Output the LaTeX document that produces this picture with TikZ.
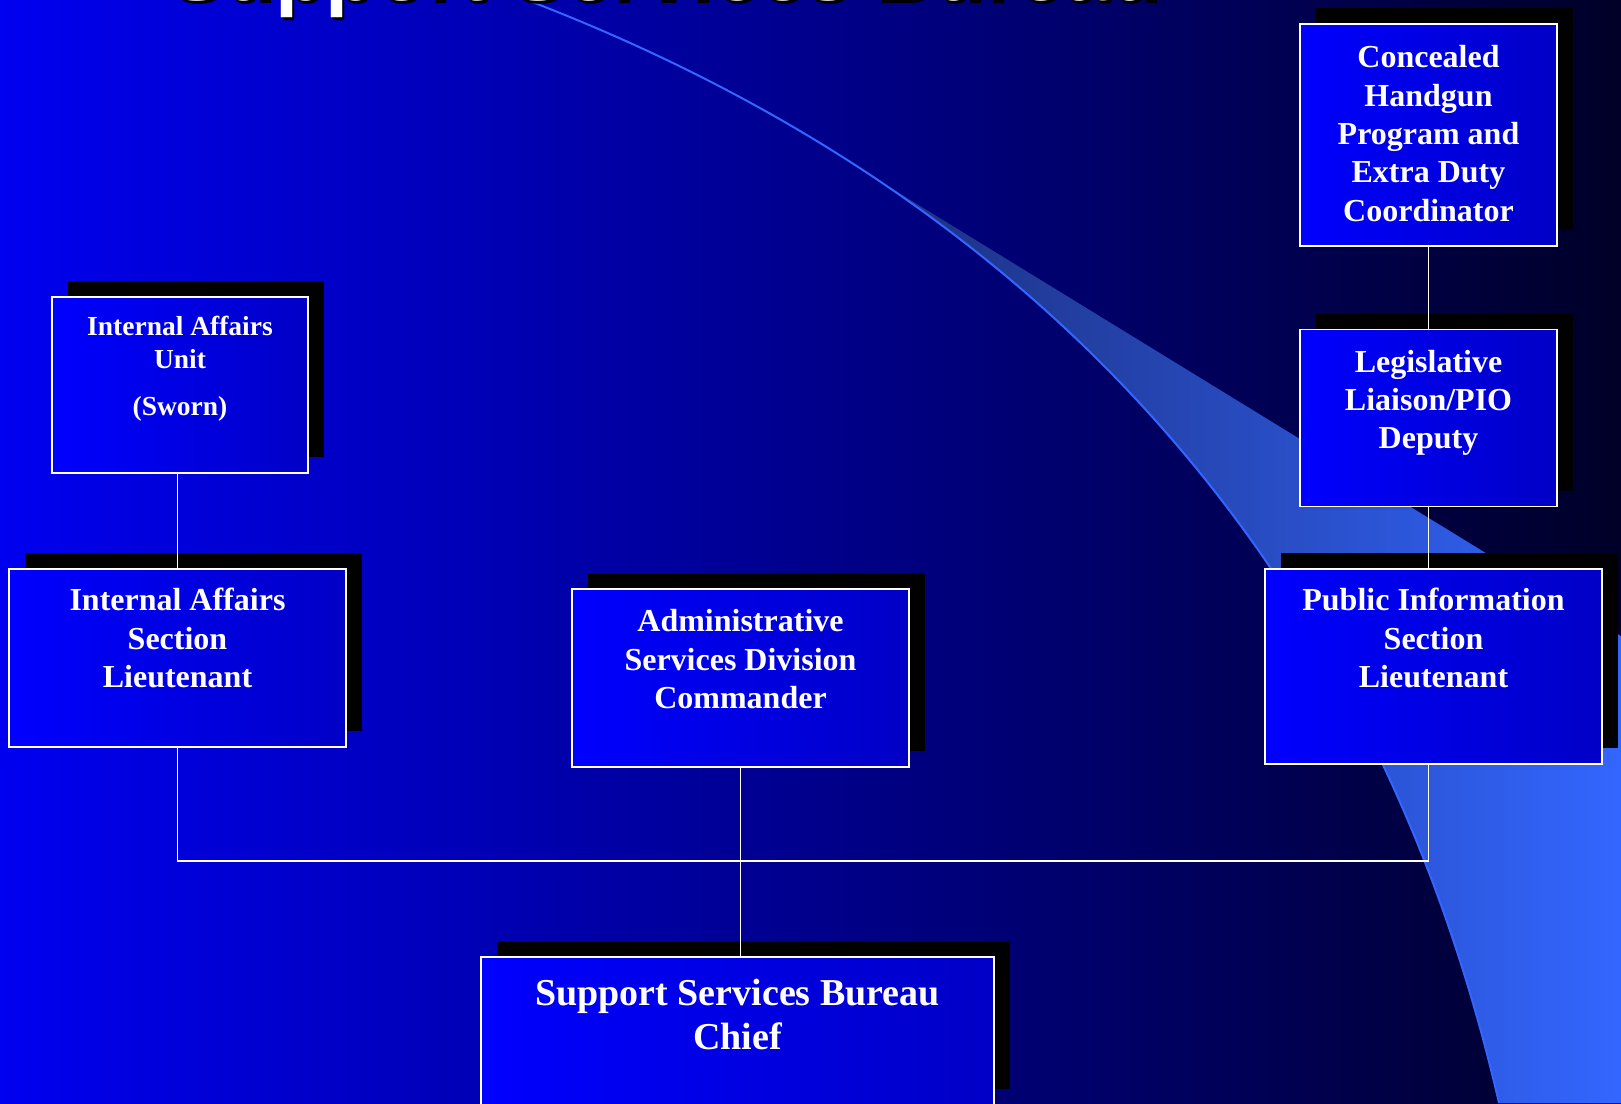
\documentclass[tikz,border=0pt]{standalone}
\usepackage{fontspec}
\setmainfont{Liberation Serif}
\newfontfamily\titlefont{Liberation Sans}
\usetikzlibrary{shadows,calc}
\definecolor{bgleft}{RGB}{0,0,240}
\definecolor{bgright}{RGB}{0,0,40}
\definecolor{swlight}{RGB}{51,102,255}
\definecolor{swmid}{RGB}{46,90,225}
\definecolor{swdark}{RGB}{28,48,128}
\definecolor{cardleft}{RGB}{0,0,255}
\definecolor{cardright}{RGB}{0,0,198}
\tikzset{
  card/.style={draw=white,line width=1.8pt,inner sep=0pt,text=white,
               left color=cardleft,right color=cardright,
               font=\bfseries\fontsize{32}{38.3}\selectfont,
               general shadow={fill=black,draw=none,shadow xshift=16pt,shadow yshift=16pt}},
  wire/.style={white,line width=1.5pt},
  heading/.style={font=\titlefont\bfseries\fontsize{83}{90}\selectfont,anchor=base},
}
% top aligned text inside a fixed size card: width, height, top gap, text
\newcommand{\cardtext}[4]{\parbox[c][#2][t]{#1}{\centering\vspace*{#3}\strut#4\par}}

\begin{document}
\begin{tikzpicture}[x=1pt,y=-1pt]
  \useasboundingbox (0,0) rectangle (1621,1103);
  \clip (0,0) rectangle (1621,1103);
  \shade[left color=bgleft,right color=bgright] (0,0) rectangle (1621,1103);

  % swoosh
  \begin{scope}
    \clip (527,0) .. controls (1046,199) and (1377,574) .. (1499,1103)
      -- (1621,1103) -- (1621,0) -- cycle;
    \shade[left color=swdark,middle color=swmid,right color=swlight]
      (881,182) -- (1621,636) -- (1621,1103) -- (881,1103) -- cycle;
  \end{scope}
  \draw[swlight,line width=2pt] (527,0) .. controls (1046,199) and (1377,574) .. (1499,1103);

  % title, only its lower edge shows
  \node[heading,text=black] (titleshadow) at (667,3) {Support Services Bureau};
  \node[heading,text=white] (title) at (665,0) {Support Services Bureau};

  \node[card] (conc) at (1428.5,135)
    {\cardtext{257pt}{222pt}{17pt}{Concealed\\Handgun\\Program and\\Extra Duty\\Coordinator}};
  \node[card] (leg) at (1428.5,418)
    {\cardtext{257pt}{177pt}{16pt}{Legislative\\Liaison/PIO\\Deputy}};
  \node[card,font=\bfseries\fontsize{27.5}{33}\selectfont] (iau) at (180,385)
    {\cardtext{256pt}{176pt}{15pt}{Internal Affairs\\Unit\\[14pt](Sworn)}};
  \node[card] (ias) at (177.5,658)
    {\cardtext{337pt}{178pt}{15pt}{Internal Affairs\\Section\\Lieutenant}};
  \node[card] (adm) at (740.5,678)
    {\cardtext{337pt}{178pt}{16pt}{Administrative\\Services Division\\Commander}};
  \node[card] (pis) at (1433.5,666.5)
    {\cardtext{337pt}{195pt}{15pt}{Public Information\\Section\\Lieutenant}};
  \node[card,font=\bfseries\fontsize{38}{44}\selectfont] (chief) at (737.5,1031)
    {\cardtext{513pt}{148pt}{18pt}{Support Services Bureau\\Chief}};

  \coordinate (bus) at (0,861);
  \draw[wire] (conc.south) -- (leg.north);
  \draw[wire] (leg.south) -- (leg.south |- pis.north);
  \draw[wire] (ias.north |- iau.south) -- (ias.north);
  \draw[wire] (ias.south) -- (ias.south |- bus) -| (leg.south |- pis.south);
  \draw[wire] (adm.south) -- (adm.south |- chief.north);
\end{tikzpicture}
\end{document}
